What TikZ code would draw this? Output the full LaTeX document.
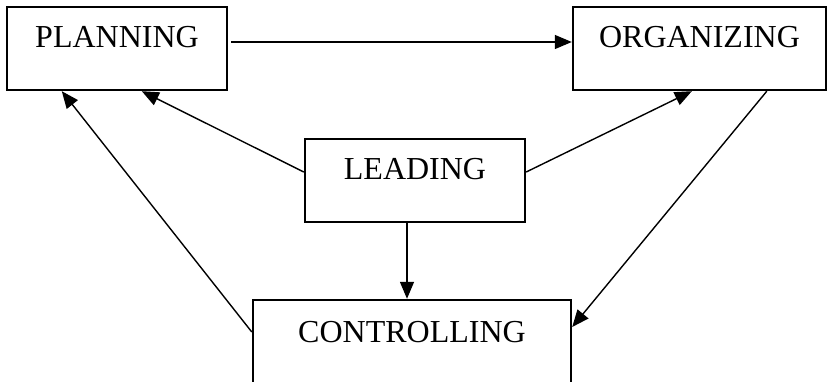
\documentclass[tikz,border=0pt]{standalone}
\usepackage{fontspec}
\setmainfont{Liberation Serif}
\usetikzlibrary{arrows.meta}
\begin{document}
\begin{tikzpicture}[x=1pt,y=-1pt,
  stage/.style={draw, line width=2.4pt, inner sep=0pt, font=\fontsize{32}{36}\selectfont,
                text height=22pt, text depth=24pt, align=center},
  flow/.style={line width=1.4pt, -{Triangle[length=17pt,width=14pt]}}]
  \useasboundingbox (0,0) rectangle (833,382);
  \clip (0,0) rectangle (833,382);
  \fill[white] (0,0) rectangle (833,382);

  % the four management functions
  \node[stage, minimum width=220pt, minimum height=83pt] (plan) at (117,48.5) {PLANNING};
  \node[stage, minimum width=253pt, minimum height=83pt] (org)  at (699.5,48.5) {ORGANIZING};
  \node[stage, minimum width=220pt, minimum height=83pt] (lead) at (415,180.5) {LEADING};
  \node[stage, minimum width=318pt, minimum height=87pt] (ctrl) at (412,343.5) {CONTROLLING};

  % connectors
  \draw[flow, shorten <=3pt] ([yshift=6.5pt]plan.east) -- ([yshift=6.5pt]org.west);
  \draw[flow] ([yshift=8.5pt]lead.west) -- ([xshift=136pt]plan.south west);
  \draw[flow] ([yshift=8.5pt]lead.east) -- ([xshift=120pt]org.south west);
  \draw[flow] ([xshift=-8pt]lead.south) -- ([xshift=-5pt]ctrl.north);
  \draw[flow] ([yshift=11.5pt]ctrl.west) -- ([xshift=56pt]plan.south west);
  \draw[flow] ([xshift=195pt]org.south west) -- ([yshift=16.5pt]ctrl.east);
\end{tikzpicture}
\end{document}
